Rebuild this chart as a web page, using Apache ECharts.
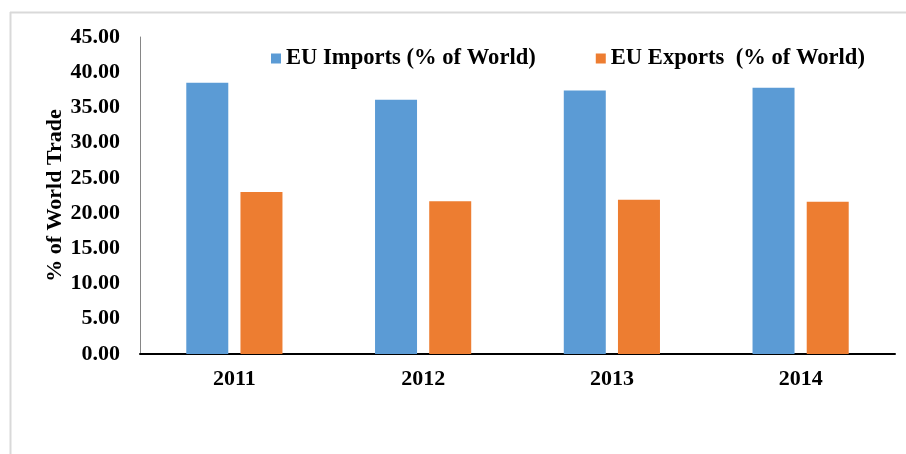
<!DOCTYPE html>
<html>
<head>
<meta charset="utf-8">
<script src="https://cdn.jsdelivr.net/npm/echarts@6/dist/echarts.min.js"></script>
<style>html,body{margin:0;padding:0;background:#fff;}#c{width:906px;height:454px;}</style>
</head>
<body>
<div id="c"></div>
<script>
var categories = ['2011', '2012', '2013', '2014'];
var importsPct = [38.5, 36.1, 37.4, 37.8];
var exportsPct = [23.0, 21.7, 21.9, 21.6];
var seriesNames = ['EU Imports (% of World)', 'EU Exports  (% of World)'];

var chart = echarts.init(document.getElementById('c'));
var font = '"Liberation Serif", "Times New Roman", serif';
chart.setOption({
  animation: false,
  backgroundColor: '#fff',
  graphic: [
    { type: 'line', shape: { x1: 10, y1: 12.5, x2: 906, y2: 12.5 }, style: { stroke: '#d9d9d9', lineWidth: 2 } },
    { type: 'line', shape: { x1: 10.5, y1: 12, x2: 10.5, y2: 454 }, style: { stroke: '#d9d9d9', lineWidth: 2 } }
  ],
  grid: { left: 140, right: 11, top: 37, bottom: 100, containLabel: false },
  legend: {
    left: 266, top: 42,
    itemWidth: 10, itemHeight: 10, itemGap: 60,
    icon: 'rect',
    textStyle: { fontFamily: font, fontWeight: 'bold', fontSize: 22.6, color: '#000' },
    data: seriesNames
  },
  xAxis: {
    type: 'category',
    data: categories,
    axisLine: { lineStyle: { color: '#000', width: 2 } },
    axisTick: { show: false },
    axisLabel: { fontFamily: font, fontWeight: 'bold', fontSize: 22, color: '#000', margin: 14 }
  },
  yAxis: {
    type: 'value',
    min: 0, max: 45, interval: 5,
    name: '% of World Trade',
    nameLocation: 'middle',
    nameRotate: 90,
    nameGap: 74,
    nameMoveOverlap: false,
    nameTextStyle: { fontFamily: font, fontWeight: 'bold', fontSize: 22, color: '#000' },
    axisLine: { show: true, lineStyle: { color: '#868686', width: 1 } },
    axisTick: { show: false },
    splitLine: { show: false },
    axisLabel: {
      fontFamily: font, fontWeight: 'bold', fontSize: 22, color: '#000', margin: 20,
      formatter: function (v) { return v.toFixed(2); }
    }
  },
  series: [
    { name: seriesNames[0], type: 'bar', data: importsPct, barWidth: 42, barGap: '29%', itemStyle: { color: '#5B9BD5' } },
    { name: seriesNames[1], type: 'bar', data: exportsPct, barWidth: 42, barGap: '29%', itemStyle: { color: '#ED7D31' } }
  ]
});
</script>
</body>
</html>
